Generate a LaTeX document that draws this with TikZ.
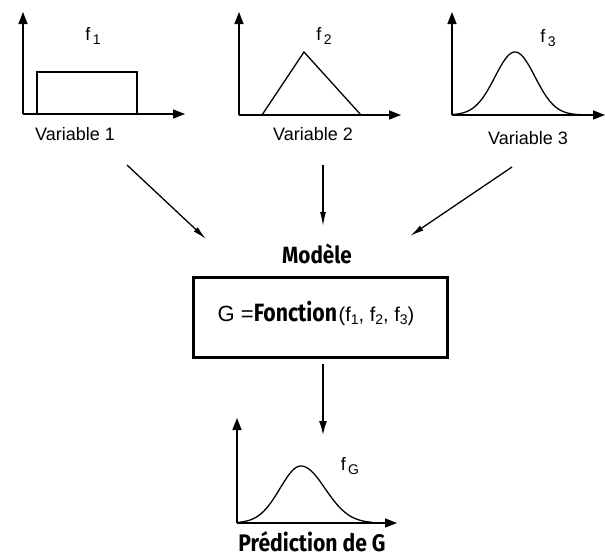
\documentclass[tikz,border=0pt]{standalone}
\usepackage{fontspec}
\setmainfont{Liberation Sans}
\newfontfamily\condfont{Fira Sans}
\usetikzlibrary{arrows.meta}
\newcommand{\fsub}[1]{f\raisebox{-0.45ex}{\fontsize{14}{15}\selectfont\,#1}}
\newcommand{\fin}[1]{f\raisebox{-0.35ex}{\fontsize{14}{15}\selectfont #1}}
\begin{document}
\begin{tikzpicture}[x=1pt,y=-1pt,
  axis/.style={line width=1.5pt, -{Triangle[length=12pt,width=9pt]}},
  curve/.style={line width=1.3pt},
  flow/.style={line width=1.3pt, -{Latex[length=14pt,width=6pt]}},
  bigflow/.style={line width=2.4pt, -{Latex[length=15pt,width=8pt]}},
  lbl/.style={font=\fontsize{18}{19}\selectfont, inner sep=0pt},
  cond/.style={inner sep=0pt, anchor=base},
  modelbox/.style={draw, line width=3pt, minimum width=254pt, minimum height=80pt, inner sep=0pt}]
\useasboundingbox (0,0) rectangle (605,557);
\fill[white] (0,0) rectangle (605,557);

% panel 1
\coordinate (o1) at (23,114);
\draw[axis] (o1) -- (23,12);
\draw[axis] (o1) -- (185,114);
\draw[curve] (37,114) -- (37,72) -- (137,72) -- (137,114);
\node[lbl] (f1) at (93,36) {\fsub{1}};
\node[lbl] (v1) at (75,134) {Variable 1};

% panel 2
\coordinate (o2) at (239,115);
\draw[axis] (o2) -- (239,12);
\draw[axis] (o2) -- (401,115);
\draw[curve] (262,115) -- (304,52) -- (361,115);
\node[lbl] (f2) at (324,36) {\fsub{2}};
\node[lbl] (v2) at (313,134) {Variable 2};

% panel 3
\coordinate (o3) at (452,115);
\draw[axis] (o3) -- (452,12);
\draw[axis] (o3) -- (605,115);
\draw[curve] plot[domain=452:580, samples=90, smooth] (\x, {115-63*exp(-((\x-515)/20)^2/2)});
\node[lbl] (f3) at (548,38) {\fsub{3}};
\node[lbl] (v3) at (528,138) {Variable 3};

% model
\node[cond] (mod) at (317,263) {\scalebox{0.88}[1]{\condfont\bfseries\fontsize{23.5}{25}\selectfont Modèle}};
\node[modelbox] (box) at (320,317) {};
\node[inner sep=0pt, anchor=base] (ftext) at (316,321) {{\fontsize{22}{24}\selectfont G =}\scalebox{0.85}[1]{\condfont\bfseries\fontsize{25}{26}\selectfont Fonction}\,{\fontsize{20}{22}\selectfont(\fin{1}, \fin{2}, \fin{3})}};

% flows
\coordinate (a1s) at (127,165);
\coordinate (a1e) at (206,239);
\coordinate (a2s) at (323,165);
\coordinate (a2e) at (323,226);
\coordinate (a3s) at (512,167);
\coordinate (a3e) at (410,236);
\draw[flow] (a1s) -- (a1e);
\draw[flow] (a2s) -- (a2e);
\draw[flow] (a3s) -- (a3e);
\coordinate (bs) at (323,364);
\coordinate (be) at (323,436);
\draw[bigflow] (bs) -- (be);

% output
\coordinate (oG) at (237,523);
\draw[axis] (oG) -- (237,418);
\draw[axis] (oG) -- (397,523);
\draw[curve] plot[domain=237:301, samples=60, smooth] (\x, {523-57*exp(-((\x-301)/21)^2/2)});
\draw[curve] plot[domain=301:372, samples=60, smooth] (\x, {523-57*exp(-((\x-301)/24)^2/2)});
\node[lbl] (fG) at (350,466) {\fsub{G}};
\node[cond] (pred) at (312,551) {\scalebox{0.88}[1]{\condfont\bfseries\fontsize{24}{25}\selectfont Prédiction de G}};
\end{tikzpicture}
\end{document}
